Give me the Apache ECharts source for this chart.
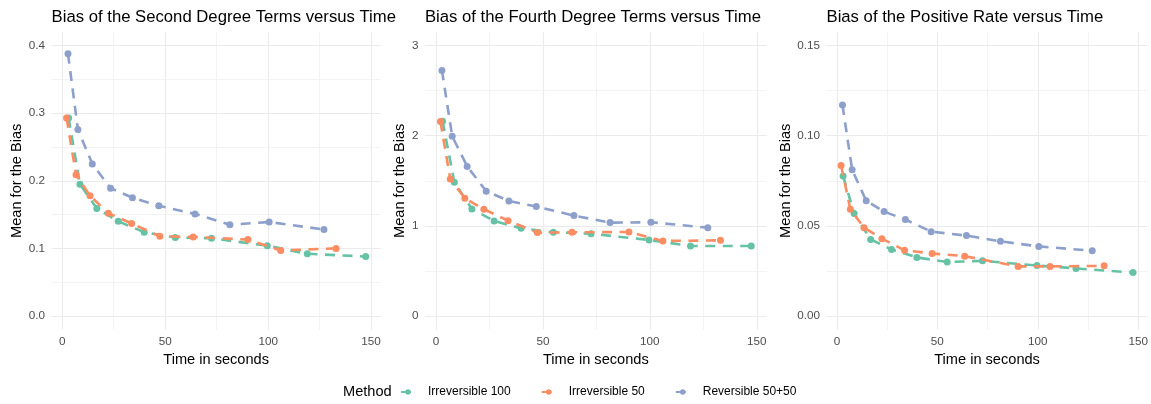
<!DOCTYPE html>
<html>
<head>
<meta charset="utf-8">
<script src="https://cdn.jsdelivr.net/npm/echarts@6/dist/echarts.min.js"></script>
<style>
html,body{margin:0;padding:0;background:#fff;}
#chart{width:1151px;height:404px;}
</style>
</head>
<body>
<div id="chart"></div>
<script>
// ---- Data ----
var methods = ['Irreversible 100', 'Irreversible 50', 'Reversible 50+50'];
var colors = ['#66C2A5', '#FC8D62', '#8DA0CB'];

var timeIrr100 = [3.1, 8.6, 16.8, 27.2, 39.8, 54.9, 72.5, 99.6, 119.0, 147.4];
var timeIrr50  = [2.1, 6.7, 13.5, 22.4, 33.7, 47.4, 63.6, 90.2, 106.1, 133.0];
var timeRev    = [2.8, 7.6, 14.6, 23.5, 34.1, 46.9, 64.5, 81.4, 100.5, 127.1];

var secondIrr100 = [0.293, 0.195, 0.159, 0.140, 0.124, 0.116, 0.115, 0.104, 0.092, 0.088];
var secondIrr50  = [0.293, 0.209, 0.178, 0.152, 0.137, 0.118, 0.117, 0.113, 0.097, 0.100];
var secondRev    = [0.388, 0.276, 0.225, 0.189, 0.175, 0.163, 0.151, 0.135, 0.139, 0.128];

var fourthIrr100 = [2.161, 1.485, 1.188, 1.055, 0.973, 0.928, 0.913, 0.843, 0.776, 0.776];
var fourthIrr50  = [2.157, 1.519, 1.307, 1.185, 1.058, 0.925, 0.928, 0.932, 0.832, 0.839];
var fourthRev    = [2.725, 1.994, 1.660, 1.385, 1.277, 1.214, 1.114, 1.036, 1.040, 0.980];

var posIrr100 = [0.0776, 0.0568, 0.0425, 0.0369, 0.0325, 0.0299, 0.0306, 0.0280, 0.0264, 0.0241];
var posIrr50  = [0.0835, 0.0592, 0.0490, 0.0429, 0.0364, 0.0347, 0.0332, 0.0275, 0.0275, 0.0278];
var posRev    = [0.1170, 0.0811, 0.0639, 0.0579, 0.0535, 0.0468, 0.0446, 0.0414, 0.0386, 0.0362];

var titles = ['Bias of the Second Degree Terms versus Time',
              'Bias of the Fourth Degree Terms versus Time',
              'Bias of the Positive Rate versus Time'];
var xMajorTicks = [0, 50, 100, 150];
var xMinorTicks = [25, 75, 125];
var yMajorTicks = [[0, 0.1, 0.2, 0.3, 0.4], [0, 1, 2, 3], [0, 0.05, 0.10, 0.15]];
var yMinorTicks = [[0.05, 0.15, 0.25, 0.35], [0.5, 1.5, 2.5], [0.025, 0.075, 0.125]];
var yDecimals = [1, 0, 2];
var yTop = [0.4, 3, 0.15];
var xTitle = 'Time in seconds';
var yTitle = 'Mean for the Bias';
var legendTitle = 'Method';

// ---- Layout ----
var panels = [
  {left: 51.6, width: 329.1, yNameGap: 35},
  {left: 424.9, width: 341.9, yNameGap: 24.5},
  {left: 826.5, width: 321.9, yNameGap: 41}
];
var gridTop = 32.1, gridHeight = 297.4;

var allTimes = timeIrr100.concat(timeIrr50, timeRev);
var tMin = Math.min.apply(null, allTimes), tMax = Math.max.apply(null, allTimes);
var xPad = (tMax - tMin) * 0.05;
var xMin = tMin - xPad, xMax = tMax + xPad;

var seriesData = [
  [secondIrr100, secondIrr50, secondRev],
  [fourthIrr100, fourthIrr50, fourthRev],
  [posIrr100, posIrr50, posRev]
];
var timesByMethod = [timeIrr100, timeIrr50, timeRev];

function pairs(xs, ys) { return xs.map(function (x, i) { return [x, ys[i]]; }); }

var FONT = 'Liberation Sans, Arial, sans-serif';
var grid = [], xAxis = [], yAxis = [], series = [], title = [];
panels.forEach(function (p, k) {
  grid.push({left: p.left, width: p.width, top: gridTop, height: gridHeight, containLabel: false});
  var yMin = -0.05 * yTop[k], yMax = 1.05 * yTop[k];
  xAxis.push({
    type: 'value', gridIndex: k, min: xMin, max: xMax,
    name: xTitle, nameLocation: 'middle', nameGap: 27,
    nameTextStyle: {fontSize: 14.6, color: '#000', fontFamily: FONT, verticalAlign: 'middle'},
    axisLine: {show: false},
    axisTick: {show: false, customValues: xMajorTicks},
    axisLabel: {customValues: xMajorTicks, fontSize: 11.7, color: '#4D4D4D', fontFamily: FONT, margin: 6,
      formatter: function (v) { return String(Math.round(v)); }},
    splitLine: {show: true, lineStyle: {color: '#EBEBEB', width: 1.1}}
  });
  xAxis.push({
    type: 'value', gridIndex: k, min: xMin, max: xMax, position: 'top',
    axisLine: {show: false},
    axisTick: {show: false, customValues: xMinorTicks},
    axisLabel: {show: false, customValues: xMinorTicks},
    splitLine: {show: true, lineStyle: {color: '#EBEBEB', width: 0.6}}
  });
  yAxis.push({
    type: 'value', gridIndex: k, min: yMin, max: yMax,
    name: yTitle, nameLocation: 'middle', nameGap: p.yNameGap,
    nameTextStyle: {fontSize: 14.6, color: '#000', fontFamily: FONT, verticalAlign: 'middle'},
    axisLine: {show: false},
    axisTick: {show: false, customValues: yMajorTicks[k]},
    axisLabel: {customValues: yMajorTicks[k], fontSize: 11.7, color: '#4D4D4D', fontFamily: FONT, margin: 6.5,
      formatter: (function (d) { return function (v) { return v.toFixed(d); }; })(yDecimals[k])},
    splitLine: {show: true, lineStyle: {color: '#EBEBEB', width: 1.1}}
  });
  yAxis.push({
    type: 'value', gridIndex: k, min: yMin, max: yMax, position: 'right',
    axisLine: {show: false},
    axisTick: {show: false, customValues: yMinorTicks[k]},
    axisLabel: {show: false, customValues: yMinorTicks[k]},
    splitLine: {show: true, lineStyle: {color: '#EBEBEB', width: 0.6}}
  });
  title.push({
    text: titles[k], left: p.left, top: 9, padding: 0,
    textStyle: {fontSize: 16.7, fontWeight: 'normal', color: '#000', fontFamily: FONT}
  });
  methods.forEach(function (m, j) {
    series.push({
      name: m, type: 'line', xAxisIndex: 2 * k, yAxisIndex: 2 * k,
      data: pairs(timesByMethod[j], seriesData[k][j]),
      symbol: 'circle', symbolSize: 7, showSymbol: true,
      itemStyle: {color: colors[j]},
      lineStyle: {color: colors[j], width: 2.6, type: [10, 7.5], cap: 'butt'},
      animation: false, z: 2 + j
    });
  });
});

var chart = echarts.init(document.getElementById('chart'), null, {renderer: 'canvas'});
chart.setOption({
  backgroundColor: '#fff',
  animation: false,
  title: title,
  grid: grid,
  xAxis: xAxis,
  yAxis: yAxis,
  series: series,
  legend: {
    data: methods, left: 395, top: 381, itemWidth: 14, itemHeight: 7, itemGap: 30,
    selectedMode: false,
    textStyle: {fontSize: 12, color: '#000', fontFamily: FONT, padding: [0, 0, 0, 8]}
  },
  graphic: [{
    type: 'text', left: 343, top: 384.5,
    style: {text: legendTitle, fontSize: 14.6, fill: '#000', fontFamily: FONT}
  }]
});
</script>
</body>
</html>
